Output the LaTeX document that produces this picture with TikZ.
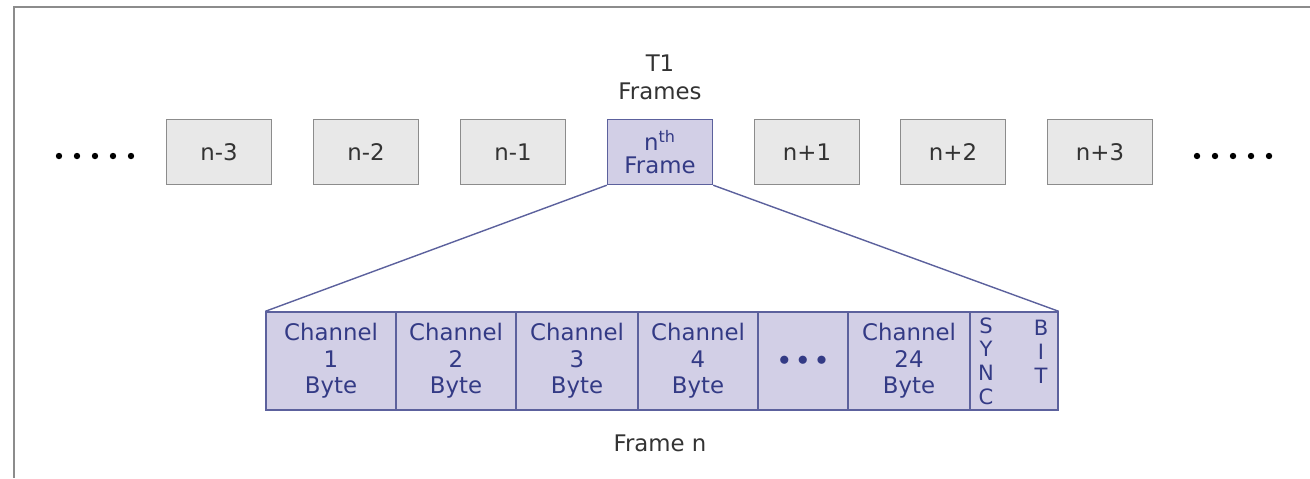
\documentclass[tikz,border=0pt]{standalone}
\usepackage{fontspec}
\setmainfont{DejaVu Sans}
\usetikzlibrary{positioning}
\definecolor{boxgray}{HTML}{E8E8E8}
\definecolor{edgegray}{HTML}{8C8C8C}
\definecolor{lilac}{HTML}{D2CFE6}
\definecolor{navy}{HTML}{333A85}
\definecolor{ink}{HTML}{333333}
\tikzset{
  framebox/.style={draw=edgegray,fill=boxgray,line width=0.9pt,minimum width=2.1cm,minimum height=1.3cm,text=ink,font=\fontsize{13}{15}\selectfont},
  nthbox/.style={draw=navy!80,fill=lilac,line width=0.8pt,minimum width=2.1cm,minimum height=1.3cm,text=navy,align=center,font=\fontsize{13}{15}\selectfont},
  cellbox/.style={draw=navy!80,fill=lilac,line width=0.8pt,minimum height=1.96cm,inner sep=0pt,text=navy,align=center,font=\fontsize{13}{15}\selectfont},
  label/.style={text=ink,align=center,font=\fontsize{13}{16}\selectfont}
}
\begin{document}
\begin{tikzpicture}[x=0.02cm,y=-0.02cm]
  \useasboundingbox (0,0) rectangle (1310,478);
  \draw [edgegray,line width=1.2pt] (1310,7) -- (14,7) -- (14,478);
  % row of T1 frames
  \node[framebox] (m3) at (219,152) {n-3};
  \node[framebox] (m2) at (366,152) {n-2};
  \node[framebox] (m1) at (513,152) {n-1};
  \node[nthbox] (nth) at (660,152) {n\textsuperscript{th}\\[-2pt]Frame};
  \node[framebox] (p1) at (807,152) {n+1};
  \node[framebox] (p2) at (953,152) {n+2};
  \node[framebox] (p3) at (1100,152) {n+3};
  \node[label] (title) at (660,77) {T1\\Frames};
  \foreach \x in {59,77,95,113,131,1197,1215,1233,1251,1269}
    \fill [black] (\x,156) circle (3.2);
  % one frame, byte by byte
  \node[cellbox,minimum width=2.6cm] (c1) at (331,361) {Channel\\1\\Byte};
  \node[cellbox,minimum width=2.4cm] (c2) at (456,361) {Channel\\2\\Byte};
  \node[cellbox,minimum width=2.44cm] (c3) at (577,361) {Channel\\3\\Byte};
  \node[cellbox,minimum width=2.4cm] (c4) at (698,361) {Channel\\4\\Byte};
  \node[cellbox,minimum width=1.8cm] (cdots) at (803,361) {$\bullet\,\bullet\,\bullet$};
  \node[cellbox,minimum width=2.44cm] (c24) at (909,361) {Channel\\24\\Byte};
  \node[cellbox,minimum width=1.76cm] (sync) at (1014,361) {};
  \node[text=navy,align=center,font=\fontsize{12}{13.5}\selectfont] (s) at (986,361) {S\\Y\\N\\C};
  \node[text=navy,align=center,font=\fontsize{12}{13.5}\selectfont] (b) at (1041,352) {B\\I\\T};
  \node[label] (caption) at (660,443) {Frame n};
  \draw [navy!80,line width=0.8pt] (nth.south west) -- (c1.north west);
  \draw [navy!80,line width=0.8pt] (nth.south east) -- (sync.north east);
\end{tikzpicture}
\end{document}
